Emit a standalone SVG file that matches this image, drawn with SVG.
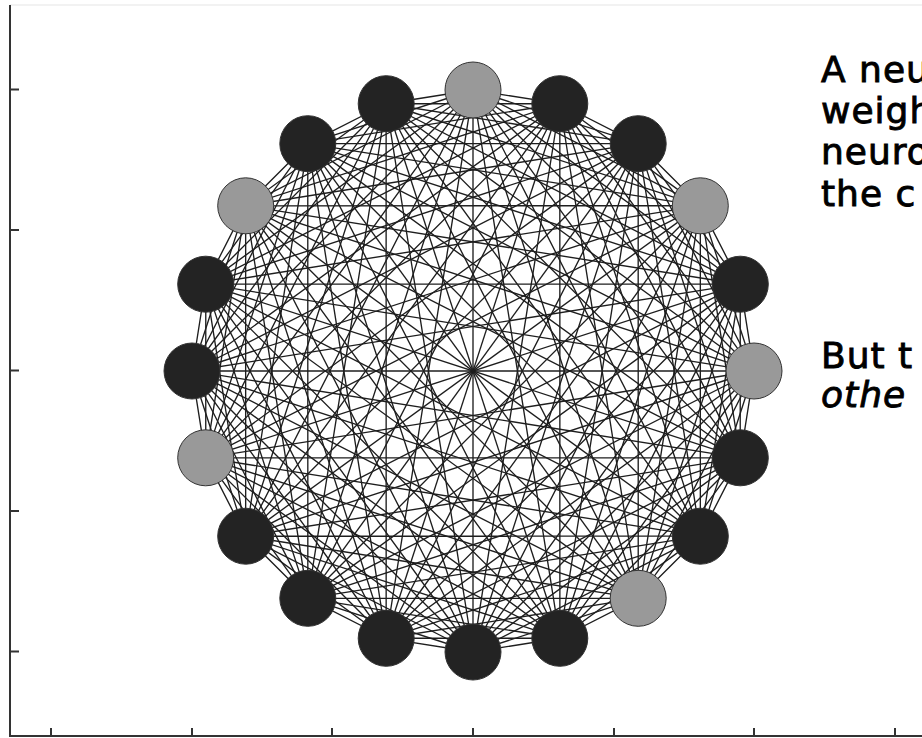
<svg xmlns="http://www.w3.org/2000/svg" xmlns:xlink="http://www.w3.org/1999/xlink" width="922" height="738" viewBox="0 0 922 738">
<style>
.edge{fill:none;stroke:#1e1e1e;stroke-width:1.35}
.dark{fill:#232323;stroke:#333;stroke-width:1}
.gray{fill:#999999;stroke:#333;stroke-width:1}
.axis{fill:none;stroke:#333;stroke-width:2}
.txt{font-family:"DejaVu Sans",sans-serif;font-size:36px;fill:#000;stroke:#000;stroke-width:0.9;letter-spacing:1px}
</style>
<defs>
<path id="fan" class="edge" d="M473,90 L559.8,103.7 M473,90 L638.2,143.7 M473,90 L700.3,205.8 M473,90 L740.3,284.2 M473,90 L754,371 M473,90 L740.3,457.8 M473,90 L700.3,536.2 M473,90 L638.2,598.3 M473,90 L559.8,638.3"/>
<path id="diam" class="edge" d="M473,90 L473,652"/>
</defs>
<rect width="922" height="738" fill="#fff"/>
<g id="axes">
<line x1="10" y1="5" x2="922" y2="5" stroke="#eee" stroke-width="1.5"/>
<path class="axis" d="M10,5 V736 H922"/>
<path class="axis" d="M10,89.5 H19 M10,230 H19 M10,370.5 H19 M10,511 H19 M10,651.5 H19 M51,736 V728 M192,736 V728 M332,736 V728 M473,736 V728 M614,736 V728 M754,736 V728 M895,736 V728"/>
</g>
<g id="connectors">
<use xlink:href="#fan"/>
<use xlink:href="#fan" transform="rotate(18 473 371)"/>
<use xlink:href="#fan" transform="rotate(36 473 371)"/>
<use xlink:href="#fan" transform="rotate(54 473 371)"/>
<use xlink:href="#fan" transform="rotate(72 473 371)"/>
<use xlink:href="#fan" transform="rotate(90 473 371)"/>
<use xlink:href="#fan" transform="rotate(108 473 371)"/>
<use xlink:href="#fan" transform="rotate(126 473 371)"/>
<use xlink:href="#fan" transform="rotate(144 473 371)"/>
<use xlink:href="#fan" transform="rotate(162 473 371)"/>
<use xlink:href="#fan" transform="rotate(180 473 371)"/>
<use xlink:href="#fan" transform="rotate(198 473 371)"/>
<use xlink:href="#fan" transform="rotate(216 473 371)"/>
<use xlink:href="#fan" transform="rotate(234 473 371)"/>
<use xlink:href="#fan" transform="rotate(252 473 371)"/>
<use xlink:href="#fan" transform="rotate(270 473 371)"/>
<use xlink:href="#fan" transform="rotate(288 473 371)"/>
<use xlink:href="#fan" transform="rotate(306 473 371)"/>
<use xlink:href="#fan" transform="rotate(324 473 371)"/>
<use xlink:href="#fan" transform="rotate(342 473 371)"/>
<use xlink:href="#diam"/>
<use xlink:href="#diam" transform="rotate(18 473 371)"/>
<use xlink:href="#diam" transform="rotate(36 473 371)"/>
<use xlink:href="#diam" transform="rotate(54 473 371)"/>
<use xlink:href="#diam" transform="rotate(72 473 371)"/>
<use xlink:href="#diam" transform="rotate(90 473 371)"/>
<use xlink:href="#diam" transform="rotate(108 473 371)"/>
<use xlink:href="#diam" transform="rotate(126 473 371)"/>
<use xlink:href="#diam" transform="rotate(144 473 371)"/>
<use xlink:href="#diam" transform="rotate(162 473 371)"/>
</g>
<g id="node0"><circle class="gray" cx="473" cy="90" r="28"/></g>
<g id="node1"><circle class="dark" cx="559.8" cy="103.7" r="28"/></g>
<g id="node2"><circle class="dark" cx="638.2" cy="143.7" r="28"/></g>
<g id="node3"><circle class="gray" cx="700.3" cy="205.8" r="28"/></g>
<g id="node4"><circle class="dark" cx="740.3" cy="284.2" r="28"/></g>
<g id="node5"><circle class="gray" cx="754" cy="371" r="28"/></g>
<g id="node6"><circle class="dark" cx="740.3" cy="457.8" r="28"/></g>
<g id="node7"><circle class="dark" cx="700.3" cy="536.2" r="28"/></g>
<g id="node8"><circle class="gray" cx="638.2" cy="598.3" r="28"/></g>
<g id="node9"><circle class="dark" cx="559.8" cy="638.3" r="28"/></g>
<g id="node10"><circle class="dark" cx="473" cy="652" r="28"/></g>
<g id="node11"><circle class="dark" cx="386.2" cy="638.3" r="28"/></g>
<g id="node12"><circle class="dark" cx="307.8" cy="598.3" r="28"/></g>
<g id="node13"><circle class="dark" cx="245.7" cy="536.2" r="28"/></g>
<g id="node14"><circle class="gray" cx="205.7" cy="457.8" r="28"/></g>
<g id="node15"><circle class="dark" cx="192" cy="371" r="28"/></g>
<g id="node16"><circle class="dark" cx="205.7" cy="284.2" r="28"/></g>
<g id="node17"><circle class="gray" cx="245.7" cy="205.8" r="28"/></g>
<g id="node18"><circle class="dark" cx="307.8" cy="143.7" r="28"/></g>
<g id="node19"><circle class="dark" cx="386.2" cy="103.7" r="28"/></g>
<g id="text" class="txt">
<text x="821" y="82">A neu</text>
<text x="821" y="123">weigh</text>
<text x="821" y="164">neuro</text>
<text x="821" y="206">the c</text>
<text x="821" y="368">But t</text>
<text x="821" y="407" font-style="italic">othe</text>
</g>
</svg>
